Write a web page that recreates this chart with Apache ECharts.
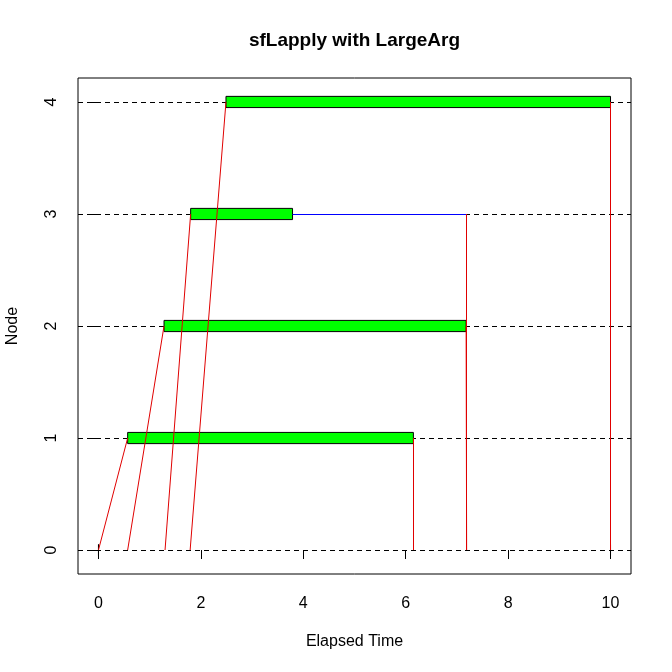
<!DOCTYPE html>
<html>
<head>
<meta charset="utf-8">
<script src="https://cdn.jsdelivr.net/npm/echarts@6/dist/echarts.min.js"></script>
<style>
  html, body { margin: 0; padding: 0; background: #fff; }
  #chart { width: 672px; height: 672px; }
</style>
</head>
<body>
<div id="chart"></div>
<script>
// node rows and their timings (seconds)
const nodeIds = [1, 2, 3, 4];
const sendStart = [0, 0.57, 1.30, 1.79];     // master sends task (row 0)
const taskStart = [0.57, 1.28, 1.80, 2.49];  // node starts computing
const taskEnd = [6.15, 7.18, 3.79, 10.0];    // node finishes computing
const resultSent = [6.15, 7.18, 7.18, 10.0]; // result leaves node (after waiting)
const resultRecv = [6.15, 7.19, 7.18, 10.0]; // master gets result (row 0)
const masterTimes = [0, 10];                 // master row marks
const rowTicks = [0, 1, 2, 3, 4];
const timeTicks = [0, 2, 4, 6, 8, 10];

const FONT = "'Liberation Sans', Arial, sans-serif";
const W2 = 0.05; // half height of the bars

const myChart = echarts.init(document.querySelector('#chart'));

// green boxes for the nodes, empty boxes for the master
const boxData = nodeIds.map((n, i) => [taskStart[i], taskEnd[i], n, 1])
  .concat(masterTimes.map(t => [t, t, 0, 0]));

// red send / return lines, blue waits
const sendLines = [];
const waitLines = [];
nodeIds.forEach((n, i) => {
  sendLines.push({ coords: [[sendStart[i], 0], [taskStart[i], n]] });
  if (resultSent[i] - taskEnd[i] > 0.01) {
    waitLines.push({ coords: [[taskEnd[i], n], [resultSent[i], n]] });
  }
  sendLines.push({ coords: [[resultSent[i], n], [resultRecv[i], 0]] });
});

const gridLines = rowTicks.map(r => ({ coords: [[-0.4, r], [10.4, r]] }));

const option = {
  animation: false,
  grid: {
    left: 78, right: 41, top: 78, bottom: 98,
    show: true, borderColor: '#000', borderWidth: 1,
    backgroundColor: 'transparent'
  },
  xAxis: {
    type: 'value',
    min: -0.4, max: 10.4,
    axisLine: { show: false },
    splitLine: { show: false },
    axisTick: { show: true, length: 9, customValues: timeTicks, lineStyle: { color: '#000' } },
    axisLabel: { customValues: timeTicks, margin: 22, fontSize: 16, color: '#000', fontFamily: FONT }
  },
  yAxis: {
    type: 'value',
    min: -0.214, max: 4.214,
    axisLine: { show: false },
    splitLine: { show: false },
    axisTick: { show: true, length: 9, customValues: rowTicks, lineStyle: { color: '#000' } },
    axisLabel: { customValues: rowTicks, rotate: 90, margin: 18, fontSize: 16, color: '#000', fontFamily: FONT }
  },
  graphic: [
    {
      type: 'text', x: 354.5, y: 41,
      style: { text: 'sfLapply with LargeArg', font: 'bold 19px ' + FONT, fill: '#000', align: 'center', verticalAlign: 'middle' }
    },
    {
      type: 'text', x: 354.5, y: 642,
      style: { text: 'Elapsed Time', font: '16px ' + FONT, fill: '#000', align: 'center', verticalAlign: 'middle' }
    },
    {
      type: 'text', x: 13, y: 326, rotation: Math.PI / 2,
      style: { text: 'Node', font: '16px ' + FONT, fill: '#000', align: 'center', verticalAlign: 'middle' }
    }
  ],
  series: [
    {
      type: 'lines',
      coordinateSystem: 'cartesian2d',
      data: gridLines,
      silent: true,
      lineStyle: { color: '#000', width: 1, type: [5, 4], opacity: 1 },
      z: 1
    },
    {
      type: 'custom',
      data: boxData,
      silent: true,
      z: 2,
      renderItem: function (params, api) {
        const a = api.coord([api.value(0), api.value(2) + W2]);
        const b = api.coord([api.value(1), api.value(2) - W2]);
        return {
          type: 'rect',
          shape: { x: a[0], y: a[1], width: b[0] - a[0], height: b[1] - a[1] },
          style: { fill: api.value(3) ? '#00ff00' : 'none', stroke: '#000', lineWidth: 1 }
        };
      }
    },
    {
      type: 'lines',
      coordinateSystem: 'cartesian2d',
      data: waitLines,
      silent: true,
      lineStyle: { color: '#0000ff', width: 1, opacity: 1 },
      z: 3
    },
    {
      type: 'lines',
      coordinateSystem: 'cartesian2d',
      data: sendLines,
      silent: true,
      lineStyle: { color: '#e00000', width: 1, opacity: 1 },
      z: 3
    }
  ]
};
myChart.setOption(option);
</script>
</body>
</html>
